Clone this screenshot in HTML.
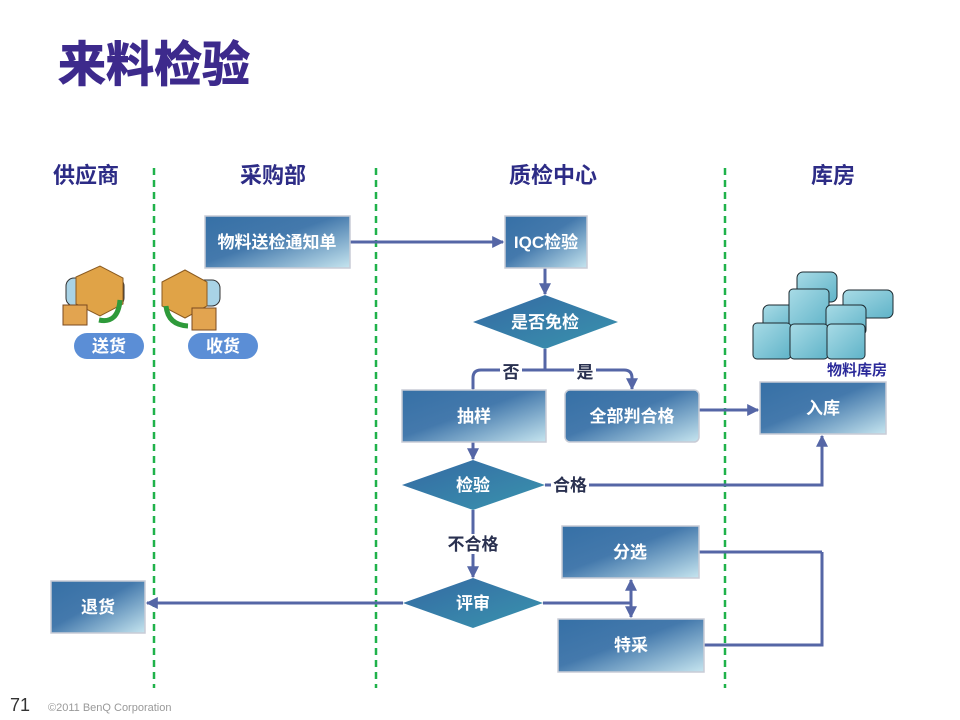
<!DOCTYPE html>
<html><head><meta charset="utf-8"><style>
html,body{margin:0;padding:0;background:#fff;}
svg{display:block;font-family:"Liberation Sans","Noto Sans CJK SC",sans-serif;}
</style></head><body>
<svg width="960" height="720" viewBox="0 0 960 720" xmlns="http://www.w3.org/2000/svg">
<defs>
<linearGradient id="bx" x1="0" y1="0" x2="1" y2="1">
<stop offset="0" stop-color="#3670a6"/><stop offset="0.45" stop-color="#4479ac"/><stop offset="1" stop-color="#c6e5ef"/>
</linearGradient>
<linearGradient id="dm" x1="0" y1="0" x2="1" y2="1">
<stop offset="0" stop-color="#3469a3"/><stop offset="1" stop-color="#3a94ae"/>
</linearGradient>
<linearGradient id="cb" x1="0" y1="0" x2="1" y2="1">
<stop offset="0" stop-color="#a8dbe6"/><stop offset="1" stop-color="#5fb3c8"/>
</linearGradient>
<marker id="ar" viewBox="0 0 10 10" refX="9" refY="5" markerWidth="4" markerHeight="4" orient="auto">
<path d="M0,0L10,5L0,10z" fill="#5566a6"/></marker>
</defs>
<text x="58" y="81" font-size="48" font-weight="bold" fill="#3d2a8c" stroke="#3d2a8c" stroke-width="1">来料检验</text>
<g font-size="22" font-weight="bold" fill="#2d2c86" text-anchor="middle">
<text x="86" y="183">供应商</text><text x="273" y="183">采购部</text>
<text x="553" y="183">质检中心</text><text x="833" y="183">库房</text></g>
<g stroke="#1fb24a" stroke-width="2.5" stroke-dasharray="7,5">
<line x1="154" y1="168" x2="154" y2="688"/><line x1="376" y1="168" x2="376" y2="688"/><line x1="725" y1="168" x2="725" y2="688"/></g>

<g stroke="#5566a6" stroke-width="3" fill="none">
<line x1="350" y1="242" x2="503" y2="242" marker-end="url(#ar)"/>
<line x1="545" y1="268" x2="545" y2="294" marker-end="url(#ar)"/>
<path d="M545,349V370"/>
<path d="M473,389V378Q473,370 481,370H624Q632,370 632,378V389" marker-start="url(#ar)" marker-end="url(#ar)"/>
<line x1="699" y1="410" x2="758" y2="410" marker-end="url(#ar)"/>
<line x1="473" y1="442" x2="473" y2="459" marker-end="url(#ar)"/>
<path d="M545,485H822V436" marker-end="url(#ar)"/>
<path d="M699,552H822"/><path d="M704,645H822V552"/>
<line x1="473" y1="510" x2="473" y2="577" marker-end="url(#ar)"/>
<line x1="403" y1="603" x2="147" y2="603" marker-end="url(#ar)"/>
<path d="M543,603H631"/>
<line x1="631" y1="603" x2="631" y2="580" marker-end="url(#ar)"/>
<line x1="631" y1="603" x2="631" y2="617" marker-end="url(#ar)"/>
</g>
<g stroke="#c8ccd6" stroke-width="1.5">
<rect x="205" y="216" width="145" height="52" fill="url(#bx)"/>
<rect x="505" y="216" width="82" height="52" fill="url(#bx)"/>
<rect x="402" y="390" width="144" height="52" fill="url(#bx)"/>
<rect x="565" y="390" width="134" height="52" rx="5" fill="url(#bx)"/>
<rect x="760" y="382" width="126" height="52" fill="url(#bx)"/>
<rect x="562" y="526" width="137" height="52" fill="url(#bx)"/>
<rect x="558" y="619" width="146" height="53" fill="url(#bx)"/>
<rect x="51" y="581" width="94" height="52" fill="url(#bx)"/>
</g>
<polygon points="473,322 545,295 618,322 545,349" fill="url(#dm)"/>
<polygon points="402,485 473,460 545,485 473,510" fill="url(#dm)"/>
<polygon points="403,603 473,578 543,603 473,628" fill="url(#dm)"/>
<g font-size="17" font-weight="bold" fill="#fff" text-anchor="middle">
<text x="277" y="248">物料送检通知单</text><text x="546" y="248">IQC检验</text>
<text x="545" y="328">是否免检</text><text x="474" y="422">抽样</text>
<text x="632" y="422">全部判合格</text><text x="823" y="414">入库</text>
<text x="473" y="491">检验</text><text x="630" y="558">分选</text>
<text x="631" y="651">特采</text><text x="473" y="609">评审</text><text x="98" y="613">退货</text>
</g>
<g font-size="17" font-weight="bold" fill="#2a3150" text-anchor="middle">
<rect x="500" y="362" width="22" height="18" fill="#fff"/><text x="511" y="378">否</text>
<rect x="574" y="362" width="22" height="18" fill="#fff"/><text x="585" y="378">是</text>
<rect x="551" y="474" width="38" height="20" fill="#fff"/><text x="570" y="491">合格</text>
<rect x="446" y="534" width="54" height="20" fill="#fff"/><text x="473" y="550">不合格</text>
</g>
<g>
<rect x="66" y="278" width="58" height="28" rx="8" fill="#a9d3e6" stroke="#333" stroke-width="1"/>
<polygon points="76,277 100,266 123,278 123,304 100,316 76,304" fill="#e0a347" stroke="#8a5a20"/>
<path d="M99,320 Q118,324 120,300" stroke="#2e9a3a" stroke-width="5" fill="none"/>
<rect x="63" y="305" width="24" height="20" fill="#e2a450" stroke="#7a4a20"/>
<rect x="165" y="280" width="55" height="26" rx="8" fill="#a9d3e6" stroke="#333" stroke-width="1"/>
<polygon points="162,282 185,270 207,282 207,306 185,318 162,306" fill="#e0a347" stroke="#8a5a20"/>
<path d="M166,306 Q168,325 188,326" stroke="#2e9a3a" stroke-width="5" fill="none"/>
<rect x="192" y="308" width="24" height="22" fill="#e2a450" stroke="#7a4a20"/>
<rect x="74" y="333" width="70" height="26" rx="13" fill="#5b8ed6"/>
<rect x="188" y="333" width="70" height="26" rx="13" fill="#5b8ed6"/>
<text x="109" y="352" font-size="17" font-weight="bold" fill="#fff" text-anchor="middle">送货</text>
<text x="223" y="352" font-size="17" font-weight="bold" fill="#fff" text-anchor="middle">收货</text>
</g>
<g fill="url(#cb)" stroke="#1d2a30" stroke-width="1">
<rect x="797" y="272" width="40" height="30" rx="6"/>
<rect x="843" y="290" width="50" height="28" rx="6"/>
<rect x="763" y="305" width="36" height="26" rx="6"/>
<rect x="789" y="289" width="40" height="40" rx="4"/>
<rect x="826" y="305" width="40" height="30" rx="5"/>
<rect x="753" y="323" width="38" height="36" rx="4"/>
<rect x="790" y="324" width="38" height="35" rx="4"/>
<rect x="827" y="324" width="38" height="35" rx="4"/>
</g>
<text x="857" y="375" font-size="15" font-weight="bold" fill="#2b2a9a" text-anchor="middle">物料库房</text>
<text x="10" y="711" font-size="18" fill="#333">71</text>
<text x="48" y="711" font-size="11" fill="#999">©2011 BenQ Corporation</text>
</svg>
</body></html>
